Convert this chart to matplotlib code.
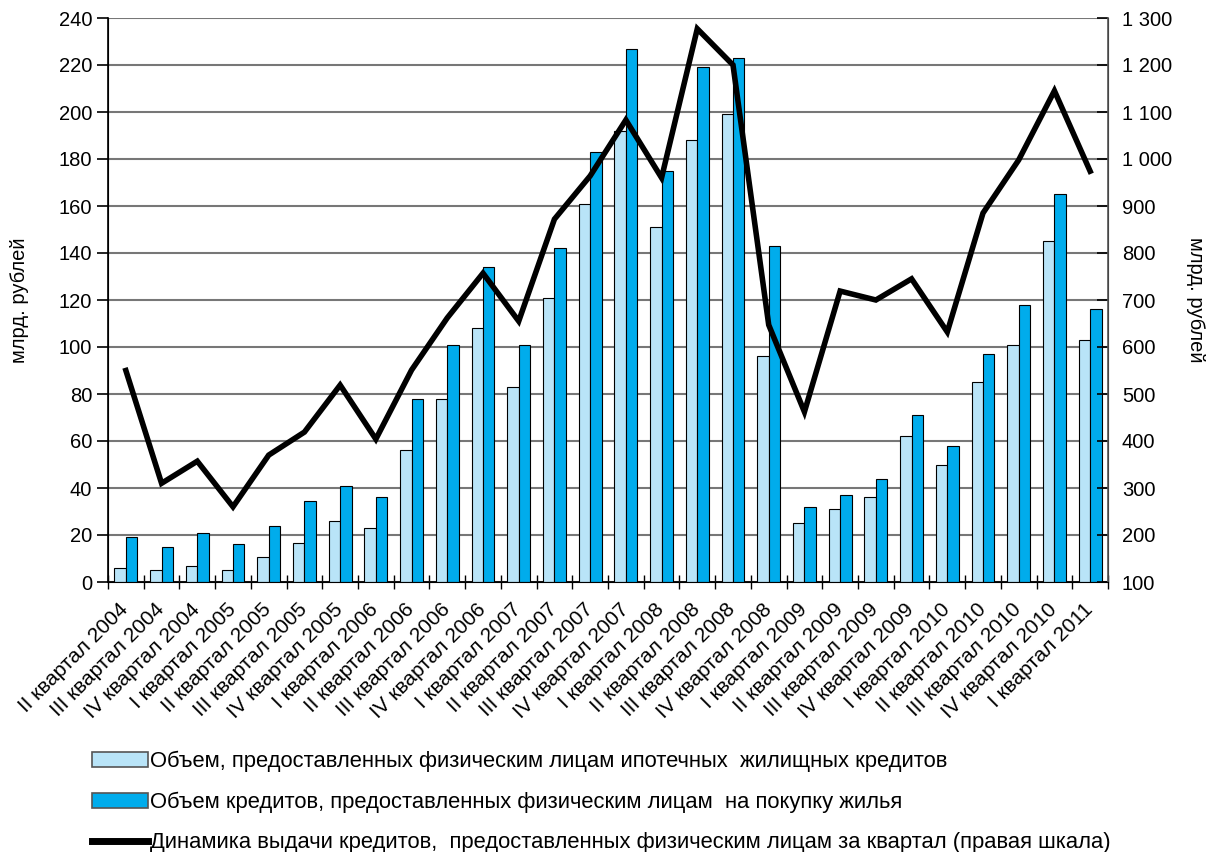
import matplotlib
matplotlib.use("Agg")
import matplotlib.pyplot as plt
import matplotlib.transforms as mtransforms
import numpy as np
from matplotlib.patches import Patch
from matplotlib.lines import Line2D

plt.rcParams['font.family'] = ['Liberation Sans', 'DejaVu Sans']

categories = [
    "II квартал 2004", "III квартал 2004", "IV квартал 2004",
    "I квартал 2005", "II квартал 2005", "III квартал 2005", "IV квартал 2005",
    "I квартал 2006", "II квартал 2006", "III квартал 2006", "IV квартал 2006",
    "I квартал 2007", "II квартал 2007", "III квартал 2007", "IV квартал 2007",
    "I квартал 2008", "II квартал 2008", "III квартал 2008", "IV квартал 2008",
    "I квартал 2009", "II квартал 2009", "III квартал 2009", "IV квартал 2009",
    "I квартал 2010", "II квартал 2010", "III квартал 2010", "IV квартал 2010",
    "I квартал 2011",
]
mortgage = [6, 5, 7, 5, 10.5, 16.5, 26, 23, 56, 78, 108, 83, 121, 161, 192, 151,
            188, 199, 96, 25, 31, 36, 62, 50, 85, 101, 145, 103]
housing = [19, 15, 21, 16, 24, 34.5, 41, 36, 78, 101, 134, 101, 142, 183, 227, 175,
           219, 223, 143, 32, 37, 44, 71, 58, 97, 118, 165, 116]
dynamics = [550, 310, 357, 260, 370, 419, 519, 404, 551, 662, 757, 655, 872, 964, 1083, 960,
            1277, 1200, 647, 462, 719, 700, 745, 632, 885, 998, 1145, 974]

label_mortgage = "Объем, предоставленных физическим лицам ипотечных  жилищных кредитов"
label_housing = "Объем кредитов, предоставленных физическим лицам  на покупку жилья"
label_dyn = "Динамика выдачи кредитов,  предоставленных физическим лицам за квартал (правая шкала)"
ylabel = "млрд. рублей"

fig = plt.figure(figsize=(12.2, 8.52), dpi=100)
ax = fig.add_axes([108/1220, 1-582/852, 1000/1220, 564/852])
ax2 = ax.twinx()

n = len(categories)
x = np.arange(n)
w = 0.32
light = "#B9E4F8"
dark = "#00ACEC"
ax.bar(x - w/2, mortgage, w, color=light, edgecolor="black", linewidth=0.8, zorder=3)
ax.bar(x + w/2, housing, w, color=dark, edgecolor="black", linewidth=0.8, zorder=3)

ax.set_xlim(-0.5, n - 0.5)
ax.set_ylim(0, 240)
ax.set_yticks(np.arange(0, 241, 20))
ax.yaxis.grid(True, color="#777777", linewidth=1.5, zorder=0)
ax.set_axisbelow(True)

ax.set_xticks(x)
ax.set_xticklabels(categories, rotation=45, ha="right", va="top", rotation_mode="anchor", fontsize=15)
ax.tick_params(axis="x", length=0, pad=13)
offset = mtransforms.ScaledTranslation(-7/100, 0, fig.dpi_scale_trans)
for lbl in ax.get_xticklabels():
    lbl.set_transform(lbl.get_transform() + offset)
ax.set_xticks(np.arange(-0.5, n, 1), minor=True)
ax.tick_params(axis="x", which="minor", length=10, direction="inout", width=1)
ax.tick_params(axis="y", labelsize=14.5, length=8, direction="out", width=1.2)

for s in ["top"]:
    ax.spines[s].set_visible(False)
    ax2.spines[s].set_visible(False)
ax.spines["left"].set_linewidth(1.2)
ax.spines["bottom"].set_linewidth(1.2)
ax2.spines["right"].set_linewidth(1.2)
ax2.spines["right"].set_color("#555555")

ax2.plot(x, dynamics, color="black", linewidth=4, solid_joinstyle="miter", zorder=5)
ax2.set_ylim(100, 1300)
ax2.set_yticks(np.arange(100, 1301, 100))
ax2.set_yticklabels([f"{v:,}".replace(",", " ") for v in range(100, 1301, 100)])
ax2.tick_params(axis="y", labelsize=14.5, length=8, direction="in", width=1.2, pad=10)

fig.text(20/1220, 1-300/852, ylabel, rotation=90, va="center", ha="center", fontsize=14.5)
fig.text(1196/1220, 1-300/852, ylabel, rotation=-90, va="center", ha="center", fontsize=14.5)

handles = [
    Patch(facecolor=light, edgecolor="#555555", linewidth=1.2),
    Patch(facecolor=dark, edgecolor="#555555", linewidth=1.2),
    Line2D([0], [0], color="black", linewidth=5),
]
fig.legend(handles, [label_mortgage, label_housing, label_dyn],
           loc="upper left", bbox_to_anchor=(92/1220, 1-751/852), frameon=False,
           fontsize=15.8, handlelength=2.55, handleheight=0.7, handletextpad=0.1,
           labelspacing=0.88, borderaxespad=0, borderpad=0)

fig.savefig("out.png", dpi=100)
